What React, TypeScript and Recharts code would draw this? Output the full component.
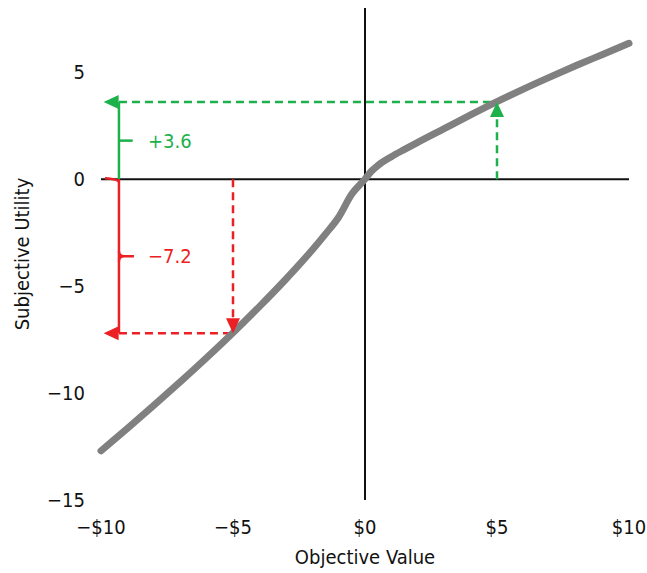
import { Line, LineChart, ReferenceDot, ReferenceLine, XAxis, YAxis } from 'recharts'

// value function
const objectiveX = [-10, -9, -8, -7, -6, -5, -4, -3, -2.5, -2, -1.5, -1, -0.5, 0, 0.25, 0.5, 1, 1.5, 2, 3, 4, 5, 6, 7, 8, 9, 10]
const utilityY = [
  -12.7, -11.65, -10.58, -9.48, -8.35, -7.18, -5.96, -4.68, -4.01, -3.31, -2.57, -1.78, -0.7, 0, 0.38, 0.65, 1.05,
  1.39, 1.72, 2.36, 3.0, 3.62, 4.21, 4.77, 5.31, 5.83, 6.35,
]
const xTicks = [-10, -5, 0, 5, 10]
const yTicks = [-15, -10, -5, 0, 5]

const gain = { x: 5, y: 3.6, label: '+3.6' }
const loss = { x: -5, y: -7.2, label: '\u22127.2' }
const bracketX = -9.32
const arrowTipX = -9.9
const tickEndX = -8.8
const labelX = -8.22

const data = objectiveX.map((x, i) => ({ x, y: utilityY[i] }))

const GREEN = '#1db14b'
const RED = '#ec2024'
const FONT = "'Liberation Sans Narrow', 'DejaVu Sans Condensed', 'Roboto Condensed', Roboto, sans-serif"

const fmtX = (v: number) => (v < 0 ? `\u2212$${-v}` : `$${v}`)
const fmtY = (v: number) => (v < 0 ? `\u2212${-v}` : `${v}`)

const arrowLeft = (color: string) => (p: any) => (
  <path d={`M${p.cx},${p.cy} l15,-7 l0,14 z`} fill={color} />
)
const arrowUp = (color: string) => (p: any) => (
  <path d={`M${p.cx},${p.cy} l-7,15 l14,0 z`} fill={color} />
)
const arrowDown = (color: string) => (p: any) => (
  <path d={`M${p.cx},${p.cy} l-7,-15 l14,0 z`} fill={color} />
)
const textAt = (color: string, text: string) => (p: any) => (
  <text x={p.cx} y={p.cy} fill={color} fontSize={20} dominantBaseline="central" fontFamily={FONT}>
    {text}
  </text>
)
const braceNotch = (p: any) => (
  <path
    d={`M${p.cx},${p.cy - 5} Q${p.cx},${p.cy} ${p.cx + 5},${p.cy} L${p.cx + 15},${p.cy} M${p.cx},${p.cy + 5} Q${p.cx},${p.cy} ${p.cx + 5},${p.cy}`}
    stroke={RED}
    strokeWidth={2.5}
    fill="none"
  />
)
const braceHook = (p: any) => (
  <path d={`M${p.cx},${p.cy + 3} Q${p.cx},${p.cy} ${p.cx - 14},${p.cy - 1}`} stroke={RED} strokeWidth={2.5} fill="none" />
)

const dash = '8 5'

export default function App() {
  return (
    <div style={{ position: 'absolute', left: 0, top: 0, fontFamily: FONT }}>
      <LineChart width={647} height={573} data={data} margin={{ top: 8, right: 18, bottom: 0, left: 0 }}>
        <XAxis
          dataKey="x"
          type="number"
          domain={[-10, 10]}
          ticks={xTicks}
          tickFormatter={fmtX}
          height={73}
          axisLine={false}
          tickLine={false}
          tickSize={6}
          tickMargin={14}
          tick={{ fill: '#111', fontSize: 20, fontFamily: FONT }}
          label={{ value: 'Objective Value', position: 'insideBottom', offset: 9, fill: '#111', fontSize: 20, fontFamily: FONT }}
        />
        <YAxis
          type="number"
          domain={[-15, 8]}
          ticks={yTicks}
          tickFormatter={fmtY}
          width={101}
          axisLine={false}
          tickLine={false}
          tickSize={6}
          tickMargin={10}
          tick={{ fill: '#111', fontSize: 20, fontFamily: FONT }}
          label={{
            value: 'Subjective Utility',
            angle: -90,
            position: 'insideLeft',
            offset: 22,
            fill: '#111',
            fontSize: 20,
            fontFamily: FONT,
            style: { textAnchor: 'middle' },
          }}
        />
        <ReferenceLine x={0} stroke="#111" strokeWidth={2} />
        <ReferenceLine y={0} stroke="#111" strokeWidth={2} />

        {/* gain annotation */}
        <ReferenceLine segment={[{ x: bracketX, y: gain.y }, { x: gain.x, y: gain.y }]} stroke={GREEN} strokeWidth={2.5} strokeDasharray={dash} />
        <ReferenceLine segment={[{ x: gain.x, y: 0 }, { x: gain.x, y: gain.y }]} stroke={GREEN} strokeWidth={2.5} strokeDasharray={dash} />
        <ReferenceLine segment={[{ x: bracketX, y: 0 }, { x: bracketX, y: gain.y }]} stroke={GREEN} strokeWidth={2.5} />
        <ReferenceLine segment={[{ x: bracketX, y: gain.y / 2 }, { x: tickEndX, y: gain.y / 2 }]} stroke={GREEN} strokeWidth={2.5} />
        <ReferenceDot x={arrowTipX} y={gain.y} shape={arrowLeft(GREEN)} />
        <ReferenceDot x={gain.x} y={gain.y} shape={arrowUp(GREEN)} />
        <ReferenceDot x={labelX} y={gain.y / 2} shape={textAt(GREEN, gain.label)} />

        {/* loss annotation */}
        <ReferenceLine segment={[{ x: bracketX, y: loss.y }, { x: loss.x, y: loss.y }]} stroke={RED} strokeWidth={2.5} strokeDasharray={dash} />
        <ReferenceLine segment={[{ x: loss.x, y: 0 }, { x: loss.x, y: loss.y }]} stroke={RED} strokeWidth={2.5} strokeDasharray={dash} />
        <ReferenceLine segment={[{ x: bracketX, y: 0 }, { x: bracketX, y: loss.y }]} stroke={RED} strokeWidth={2.5} />
        <ReferenceDot x={bracketX} y={loss.y / 2} shape={braceNotch} />
        <ReferenceDot x={bracketX} y={0} shape={braceHook} />
        <ReferenceDot x={arrowTipX} y={loss.y} shape={arrowLeft(RED)} />
        <ReferenceDot x={loss.x} y={loss.y} shape={arrowDown(RED)} />
        <ReferenceDot x={labelX} y={loss.y / 2} shape={textAt(RED, loss.label)} />

        <Line
          dataKey="y"
          type="monotone"
          stroke="#808080"
          strokeWidth={7}
          strokeLinecap="round"
          dot={false}
          activeDot={false}
          isAnimationActive={false}
        />
      </LineChart>
    </div>
  )
}
